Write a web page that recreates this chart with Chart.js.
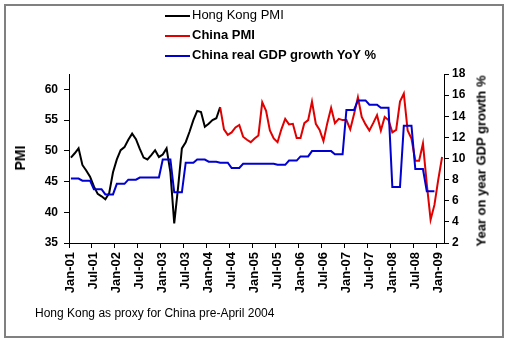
<!DOCTYPE html>
<html>
<head>
<meta charset="utf-8">
<script src="https://cdn.jsdelivr.net/npm/chart.js@4.4.1/dist/chart.umd.min.js"></script>
<style>
  body { margin: 0; background: #fff; font-family: "Liberation Sans", Arial, sans-serif; }
  #wrap { position: relative; width: 510px; height: 342px; overflow: hidden; }
  #chart { position: absolute; left: 0; top: 0; }
  .frame { position: absolute; left: 4px; top: 4px; width: 496px; height: 330px; border: 2px solid #808080; pointer-events: none; }
  .legend { position: absolute; left: 165px; top: 5px; font-size: 13px; color: #000; }
  .legend div { height: 20px; line-height: 20px; white-space: nowrap; }
  .legend .ln { display: inline-block; width: 25px; height: 2px; vertical-align: middle; margin-right: 2px; }
  .vtitle { position: absolute; font-weight: bold; color: #000; white-space: nowrap; transform: translate(-50%, -50%) rotate(-90deg); }
  .note { position: absolute; left: 35px; top: 305px; font-size: 12px; line-height: 16px; color: #000; }
</style>
</head>
<body>
<div id="wrap">
  <canvas id="chart" width="510" height="342"></canvas>
  <div class="legend">
    <div><span class="ln" style="background:#000"></span>Hong Kong PMI</div>
    <div style="font-weight:bold"><span class="ln" style="background:#e00000"></span>China PMI</div>
    <div style="font-weight:bold"><span class="ln" style="background:#0000d0"></span>China real GDP growth YoY %</div>
  </div>
  <div class="vtitle" style="left:20px; top:158px; font-size:14px;">PMI</div>
  <div class="vtitle" style="left:481px; top:161px; font-size:13px;">Year on year GDP growth %</div>
  <div class="note">Hong Kong as proxy for China pre-April 2004</div>
  <div class="frame"></div>
</div>
<script>
// monthly categories Jan-01 .. Feb-09
const monthNames = ['Jan', 'Feb', 'Mar', 'Apr', 'May', 'Jun', 'Jul', 'Aug', 'Sep', 'Oct', 'Nov', 'Dec'];
const years = ['01', '02', '03', '04', '05', '06', '07', '08', '09'];
const lastMonthOf09 = 2; // Jan, Feb 2009

// Hong Kong PMI, Jan-01 .. Apr-04
const hkPmi = [48.9, 49.6, 50.4, 47.7, 46.8, 45.8, 44.2, 43.0, 42.6, 42.1,
               43.1, 46.5, 48.6, 50.1, 50.6, 51.8, 52.8, 51.9, 50.3, 48.9,
               48.6, 49.3, 50.1, 49.0, 49.4, 50.4, 46.5, 38.2, 44.0, 50.4,
               51.4, 53.1, 55.0, 56.5, 56.3, 53.9, 54.4, 55.0, 55.3, 57.1];

// China PMI, Apr-04 .. Feb-09
const chinaPmiStart = 39;
const chinaPmi = [57.1, 53.5, 52.6, 53.0, 53.8, 54.2, 52.3, 51.8, 51.4, 52.0,
                  52.5, 57.9, 56.5, 53.3, 52.0, 51.4, 53.5, 55.2, 54.3, 54.4,
                  52.1, 52.1, 54.5, 55.0, 58.0, 54.4, 53.4, 51.6, 54.5, 57.0,
                  54.5, 55.2, 55.0, 55.0, 53.5, 56.0, 58.7, 55.5, 54.3, 53.3,
                  54.5, 55.8, 53.3, 55.5, 55.0, 53.0, 53.4, 58.0, 59.3, 53.3,
                  52.0, 48.4, 48.4, 51.2, 44.6, 38.8, 41.2, 45.3, 49.0];

// China real GDP growth YoY %, quarterly 2001Q1 .. 2008Q4
const gdpQuarterly = [8.1, 7.9, 7.1, 6.6,
                      7.6, 8.0, 8.2, 8.2,
                      9.9, 6.8, 9.6, 9.9,
                      9.7, 9.6, 9.1, 9.5,
                      9.5, 9.5, 9.4, 9.8,
                      10.2, 10.7, 10.7, 10.4,
                      14.6, 15.5, 15.1, 14.8,
                      7.3, 13.1, 9.0, 6.9];

const pmiTicksMin = 35, pmiTicksMax = 62.5;
const gdpTicksMin = 2, gdpTicksMax = 18;

const labels = [];
years.forEach(y => {
    const n = y === '09' ? lastMonthOf09 : 12;
    for (let m = 0; m < n; m++) labels.push(monthNames[m] + '-' + y);
});

function padTo(arr, start) {
    const out = new Array(labels.length).fill(null);
    arr.forEach((v, i) => { out[start + i] = v; });
    return out;
}

// each quarter value holds for its three months
const gdpMonthly = [];
gdpQuarterly.forEach(v => { gdpMonthly.push(v, v, v); });

const tickFont = { family: '"Liberation Sans", Arial, sans-serif', size: 12, weight: 'bold' };
const xTickFont = { family: '"Liberation Sans", Arial, sans-serif', size: 13, weight: 'bold' };
const showTick = ctx => (ctx.index % 6 === 0 ? '#000' : 'rgba(0,0,0,0)');

new Chart(document.getElementById('chart'), {
    type: 'line',
    data: {
        labels: labels,
        datasets: [
            { label: 'Hong Kong PMI', data: padTo(hkPmi, 0), borderColor: '#000', yAxisID: 'y', order: 2 },
            { label: 'China PMI', data: padTo(chinaPmi, chinaPmiStart), borderColor: '#e00000', yAxisID: 'y', order: 1 },
            { label: 'China real GDP growth YoY %', data: padTo(gdpMonthly, 0), borderColor: '#0000d0', yAxisID: 'y2', order: 0 }
        ]
    },
    options: {
        responsive: false,
        animation: false,
        layout: { padding: { top: 74, left: 0, right: 0, bottom: 0 } },
        elements: {
            line: { borderWidth: 2, tension: 0, fill: false },
            point: { radius: 0 }
        },
        plugins: { legend: { display: false }, tooltip: { enabled: false } },
        scales: {
            x: {
                type: 'category',
                offset: true,
                grid: { offset: true, drawOnChartArea: false, tickLength: 5, color: showTick, tickColor: showTick },
                border: { display: true, color: '#000', width: 1 },
                ticks: {
                    autoSkip: false, maxRotation: 90, minRotation: 90, padding: 4,
                    color: '#000', font: xTickFont,
                    callback: function (v, i) { return i % 6 === 0 ? this.getLabelForValue(v) : ''; }
                },
                afterFit: s => { s.height = 99; }
            },
            y: {
                position: 'left',
                min: pmiTicksMin, max: pmiTicksMax,
                grid: { drawOnChartArea: false, tickLength: 5, color: '#000' },
                border: { display: true, color: '#000', width: 1 },
                ticks: { stepSize: 5, padding: 6, color: '#000', font: tickFont },
                afterBuildTicks: s => { s.ticks = s.ticks.filter(t => t.value % 5 === 0); },
                afterFit: s => { s.width = 69; }
            },
            y2: {
                position: 'right',
                min: gdpTicksMin, max: gdpTicksMax,
                grid: { drawOnChartArea: false, tickLength: 5, color: '#000' },
                border: { display: true, color: '#000', width: 1 },
                ticks: { stepSize: 2, padding: 3, color: '#000', font: tickFont },
                afterFit: s => { s.width = 66; }
            }
        }
    }
});
</script>
</body>
</html>
